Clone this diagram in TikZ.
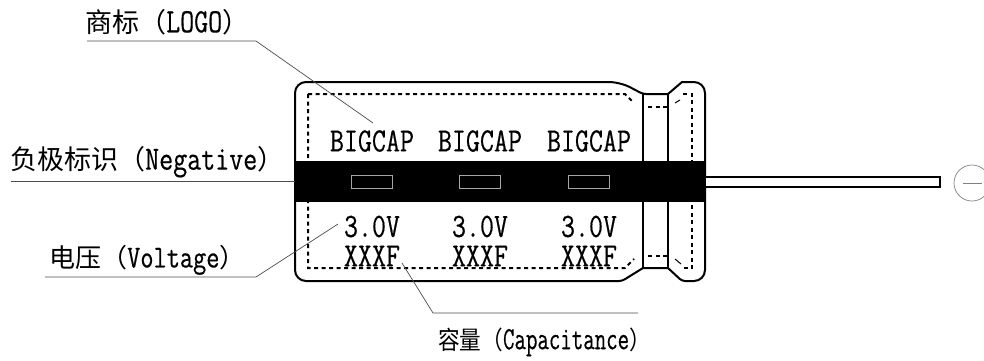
\documentclass[tikz,border=0pt]{standalone}
\usepackage{fontspec}
\newfontfamily\cjk{Noto Sans CJK SC}
\newfontfamily\latn{Latin Modern Mono}[FakeStretch=.8,FakeBold=.4]
\newcommand{\lab}[4]{{\cjk\fontsize{#1}{#1}\selectfont #3（}{\latn\fontsize{#2}{#2}\selectfont #4}{\cjk\fontsize{#1}{#1}\selectfont ）}}
\tikzset{
  outline/.style={line width=2pt},
  inner/.style={line width=2pt,dash pattern=on 4pt off 3.5pt},
  leader/.style={line width=.7pt,black!70},
  slot/.style={draw=black!35,fill=black,line width=.8pt,minimum width=41pt,minimum height=13pt,inner sep=0pt},
  lbl/.style={anchor=west,inner sep=0pt},
  txt/.style={inner sep=0pt,font=\latn\fontsize{34}{34}\selectfont}
}
\begin{document}
\begin{tikzpicture}[x=1pt,y=-1pt]
  \useasboundingbox (0,0) rectangle (984,360);
  % body, neck and head
  \draw[outline,rounded corners=11pt] (295,180) -- (295,82) -- (620,82) [rounded corners=3pt] -- (643,94) [sharp corners] -- (668,94) -- (682,82) [rounded corners=11pt] -- (705,82) -- (705,281) [rounded corners=3pt] -- (682,281) [sharp corners] -- (668,268) -- (643,268) [rounded corners=3pt] -- (622,281) [rounded corners=11pt] -- (295,281) -- (295,180);
  \draw[outline] (643,94) -- (643,268) (668,94) -- (668,268);
  % dashed inner outline
  \draw[inner] (308,94) -- (625,94) -- (634,103) (308,94) -- (308,268) -- (625,268) -- (634,259);
  \draw[inner] (648,107) -- (668,107) (648,256) -- (668,256);
  \draw[inner] (683,94) -- (692,94) -- (692,268) -- (683,268);
  \draw[line width=1pt] (675,103) -- (680,100) (675,259) -- (681,264);
  % band and lead
  \fill[black] (295,161) rectangle (706,202);
  \draw[outline,fill=white] (706,176.5) -- (940,176.5) -- (940,187) -- (706,187);
  \foreach \i/\x in {1/372,2/480,3/589} {
    \node[slot] (slot\i) at (\x,181.5) {};
    \node[txt] (brand\i) at (\x,141) {BIGCAP};
    \node[txt] (volt\i) at (\x,226.5) {3.0V};
    \node[txt] (cap\i) at (\x,256) {XXXF};
  }
  % minus sign
  \node[circle,draw=black!50,line width=.7pt,minimum size=36pt,inner sep=0pt] (neg) at (972,183) {};
  \coordinate (m1) at (963,183);
  \coordinate (m2) at (982,183);
  \draw[line width=1pt,black!50] (m1) -- (m2);
  % labels
  \node[lbl] (logo) at (85,22) {\lab{27}{34}{商标}{LOGO}};
  \node[lbl] (negative) at (10,162) {\lab{27}{34}{负极标识}{Negative}};
  \node[lbl] (voltage) at (49,260) {\lab{26}{32}{电压}{Voltage}};
  \node[lbl] (capacitance) at (438,342) {\scalebox{1.03}[1.2]{\lab{21}{27}{容量}{Capacitance}}};
  \coordinate (a1) at (87,41);
  \coordinate (a2) at (256,41);
  \coordinate (a3) at (373,123);
  \coordinate (b1) at (11,181);
  \coordinate (b2) at (295,181);
  \coordinate (c1) at (45,277);
  \coordinate (c2) at (256,277);
  \coordinate (c3) at (338,224);
  \coordinate (d1) at (638,313);
  \coordinate (d2) at (433,313);
  \coordinate (d3) at (402,263);
  \draw[leader] (a1) -- (a2) -- (a3);
  \draw[leader] (b1) -- (b2);
  \draw[leader] (c1) -- (c2) -- (c3);
  \draw[leader] (d1) -- (d2) -- (d3);
\end{tikzpicture}
\end{document}
